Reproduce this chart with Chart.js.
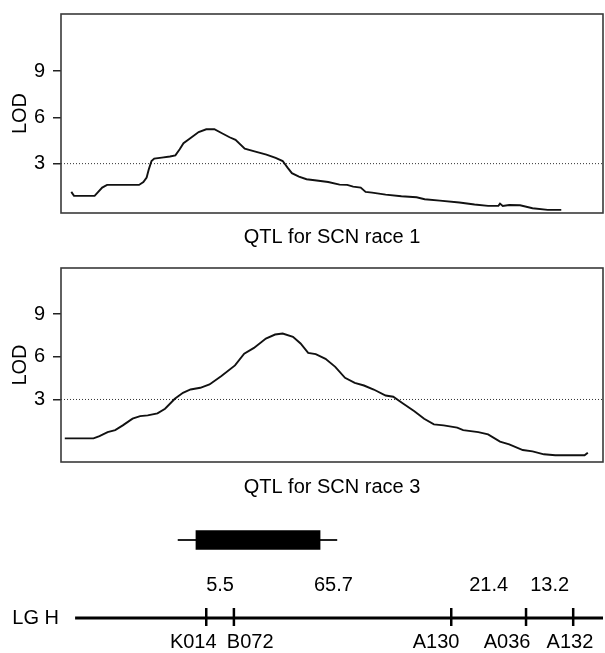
<!DOCTYPE html>
<html><head><meta charset="utf-8">
<script src="https://cdn.jsdelivr.net/npm/chart.js@4.4.0/dist/chart.umd.min.js"></script>
<style>
html,body{margin:0;padding:0;background:#fff;width:605px;height:653px;overflow:hidden;}
.box{position:absolute;left:0;width:605px;}
</style></head><body>
<div class="box" style="top:0;height:253px"><canvas id="c1"></canvas></div>
<div class="box" style="top:254px;height:249px"><canvas id="c2"></canvas></div>
<div class="box" style="top:520px;height:40px"><canvas id="c3"></canvas></div>
<div class="box" style="top:565px;height:88px"><canvas id="c4"></canvas></div>
<script>
// ---- data ----
const race1Pos = [1.9,2.4,6.2,7.6,8.5,14.4,15.2,15.8,16.2,16.7,17.2,18.6,20.1,21.1,21.9,22.6,23.6,25.4,26.8,28.3,29.7,31.1,32.2,33.9,35.7,37.9,39.6,40.9,41.8,42.6,43.9,45.3,46.8,49.3,51.4,52.8,53.9,55.3,56.2,57.4,59.9,62.8,65.6,67.1,69.9,73.5,76.3,78.8,80.7,81.0,81.5,82.7,84.7,87.0,89.8,92.3];
const race1Lod = [1.17,0.91,0.91,1.45,1.62,1.62,1.81,2.1,2.63,3.17,3.33,3.39,3.46,3.54,3.93,4.32,4.58,5.05,5.23,5.23,4.97,4.71,4.54,3.97,3.8,3.59,3.37,3.17,2.74,2.38,2.16,1.99,1.92,1.81,1.64,1.62,1.51,1.45,1.17,1.12,0.99,0.89,0.82,0.69,0.6,0.48,0.35,0.26,0.26,0.41,0.26,0.32,0.3,0.11,0.0,0.0];
const race3Pos = [0.7,6.0,7.1,8.6,10.0,11.4,13.2,14.6,16.0,17.8,19.2,21.0,22.5,23.9,25.7,27.4,29.6,32.1,33.8,35.6,37.8,39.5,40.9,42.8,44.2,45.6,47.0,48.8,50.6,52.4,54.2,55.9,57.7,59.9,61.3,63.1,65.2,67.0,68.8,70.6,73.1,74.2,77.0,78.8,81.0,82.7,85.2,87.0,89.1,91.2,96.6,97.2];
const race3Lod = [0.27,0.27,0.43,0.71,0.85,1.18,1.65,1.83,1.88,2.02,2.35,3.05,3.47,3.7,3.82,4.05,4.64,5.39,6.22,6.62,7.28,7.56,7.63,7.4,6.93,6.27,6.18,5.85,5.29,4.52,4.17,3.98,3.7,3.28,3.19,2.72,2.18,1.65,1.25,1.18,1.02,0.85,0.71,0.55,0.04,-0.15,-0.55,-0.64,-0.85,-0.92,-0.92,-0.74];
const lodTicks = [3, 6, 9];
const lodThreshold = 3;
const chartTitles = ['QTL for SCN race 1', 'QTL for SCN race 3'];
const qtlCore = [24.9, 47.8];
const qtlWhisker = [21.6, 50.9];
const lgName = 'LG H';
const lgRange = [2.6, 100];
const markerNames = ['K014','B072','A130','A036','A132'];
const markerPos = [26.8, 31.9, 72.0, 85.8, 94.5];
const intervalLabels = ['5.5','65.7','21.4','13.2'];

// ---- layout constants ----
const FONT = {family: '"Liberation Sans", Arial, Helvetica, sans-serif', size: 20};
const markerLabelShift = [-2.4, 3.0, -2.8, -3.5, -0.6];
const intervalLabelShift = [0, -1.7, 0, 0];
const AXIS_W = 61;

function noPad(s) { s.paddingTop = 0; s.paddingBottom = 0; s.paddingLeft = 0; s.paddingRight = 0; }

const framePlugin = {
  id: 'frame',
  afterDatasetsDraw(chart) {
    const {ctx, chartArea: a} = chart;
    ctx.save();
    ctx.strokeStyle = '#3a3a3a';
    ctx.lineWidth = 1.6;
    ctx.strokeRect(a.left, a.top, a.right - a.left, a.bottom - a.top);
    ctx.restore();
  }
};

function qtlChart(id, pos, lod, yMin, yMax, title, xH) {
  return new Chart(document.getElementById(id), {
    type: 'line',
    data: {datasets: [
      {data: pos.map((x, i) => ({x, y: lod[i]})), borderColor: '#111', borderWidth: 1.9,
       pointRadius: 0, tension: 0, fill: false},
      {data: [{x: 0, y: lodThreshold}, {x: 100, y: lodThreshold}], borderColor: '#333',
       borderWidth: 1, borderDash: [1, 2], pointRadius: 0, fill: false}
    ]},
    options: {
      responsive: true, maintainAspectRatio: false, animation: false,
      layout: {autoPadding: false, padding: {top: 14, right: 2, left: 0, bottom: 0}},
      plugins: {legend: {display: false}, tooltip: {enabled: false}},
      scales: {
        x: {type: 'linear', min: 0, max: 100,
            ticks: {display: false}, grid: {display: false}, border: {display: false},
            title: {display: true, text: title, color: '#000', font: FONT, padding: 4},
            afterFit(s) { s.height = xH; noPad(s); }},
        y: {type: 'linear', min: yMin, max: yMax,
            afterBuildTicks(s) { s.ticks = lodTicks.map(v => ({value: v})); },
            ticks: {color: '#000', font: FONT, padding: 8, callback: v => String(v)},
            grid: {drawOnChartArea: false, tickLength: 8, color: '#222', lineWidth: 1.5},
            border: {display: false},
            title: {display: true, text: 'LOD', color: '#000', font: FONT, padding: 8},
            afterFit(s) { s.width = AXIS_W; noPad(s); }}
      }
    },
    plugins: [framePlugin]
  });
}

qtlChart('c1', race1Pos, race1Lod, -0.2, 12.7, chartTitles[0], 40);
qtlChart('c2', race3Pos, race3Lod, -1.39, 12.23, chartTitles[1], 41);

new Chart(document.getElementById('c3'), {
  type: 'bar',
  data: {labels: ['QTL'], datasets: [
    {data: [qtlCore], backgroundColor: '#000', barThickness: 19, grouped: false, borderSkipped: false},
    {data: [qtlWhisker], backgroundColor: '#222', barThickness: 1.5, grouped: false}
  ]},
  options: {
    indexAxis: 'y', responsive: true, maintainAspectRatio: false, animation: false,
    layout: {autoPadding: false, padding: {left: AXIS_W, right: 2, top: 0, bottom: 0}},
    plugins: {legend: {display: false}, tooltip: {enabled: false}},
    scales: {x: {type: 'linear', min: 0, max: 100, display: false}, y: {display: false}}
  }
});

new Chart(document.getElementById('c4'), {
  type: 'scatter',
  data: {datasets: [
    {type: 'line', data: [{x: lgRange[0], y: 0}, {x: lgRange[1], y: 0}], borderColor: '#000',
     borderWidth: 3, pointRadius: 0},
    {type: 'scatter', data: markerPos.map(x => ({x, y: 0})), pointStyle: 'line', rotation: 90,
     radius: 10, borderColor: '#000', borderWidth: 2.5, backgroundColor: '#000'}
  ]},
  options: {
    responsive: true, maintainAspectRatio: false, animation: false,
    layout: {autoPadding: false, padding: {left: 0, right: 2, top: 0, bottom: 0}},
    plugins: {legend: {display: false}, tooltip: {enabled: false}},
    scales: {
      x: {type: 'linear', position: 'bottom', min: 0, max: 100,
          grid: {display: false, drawTicks: false}, border: {display: false},
          afterBuildTicks(s) { s.ticks = markerPos.map((v, i) => ({value: v + markerLabelShift[i]})); },
          ticks: {autoSkip: false, maxRotation: 0, padding: 4, color: '#000', font: FONT,
                  callback: (v, i) => markerNames[i]},
          afterFit(s) { s.height = 27; noPad(s); }},
      xTop: {type: 'linear', position: 'top', min: 0, max: 100,
          grid: {display: false, drawTicks: false}, border: {display: false},
          afterBuildTicks(s) {
            s.ticks = intervalLabels.map((_, i) => ({value: (markerPos[i] + markerPos[i + 1]) / 2 + intervalLabelShift[i]}));
          },
          ticks: {autoSkip: false, maxRotation: 0, padding: 3, color: '#000', font: FONT,
                  callback: (v, i) => intervalLabels[i]},
          afterFit(s) { s.height = 35; noPad(s); }},
      y: {type: 'linear', min: -8, max: 18,
          afterBuildTicks(s) { s.ticks = [{value: 0}]; },
          ticks: {padding: 2, color: '#000', font: FONT, callback: () => lgName},
          grid: {display: false, drawTicks: false}, border: {display: false},
          afterFit(s) { s.width = AXIS_W; noPad(s); }}
    }
  }
});
</script>
</body></html>
